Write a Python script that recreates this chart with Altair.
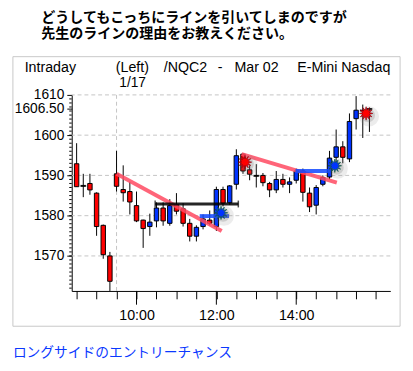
import math
import altair as alt
import pandas as pd

# ---------------- data ----------------
times = ["08:30", "08:40", "08:50", "09:00", "09:10", "09:20", "09:30", "09:40", "09:50",
         "10:00", "10:10", "10:20", "10:30", "10:40", "10:50", "11:00", "11:10", "11:20",
         "11:30", "11:40", "11:50", "12:00", "12:10", "12:20", "12:30", "12:40", "12:50",
         "13:00", "13:10", "13:20", "13:30", "13:40", "13:50", "14:00", "14:10", "14:20",
         "14:30", "14:40", "14:50", "15:00", "15:10", "15:20", "15:30", "15:40", "15:50"]
opens = [1592.9, 1587.4, 1588.0, 1585.6, 1577.6, 1570.0, 1590.4, 1586.5, 1586.0,
         1582.5, 1578.9, 1577.3, 1578.7, 1581.9, 1578.1, 1582.7, 1581.7, 1578.1,
         1574.9, 1577.3, 1578.9, 1577.3, 1586.5, 1583.2, 1587.8, 1595.3, 1591.4,
         1589.9, 1590.0, 1588.0, 1586.4, 1589.0, 1587.8, 1588.8, 1591.1, 1585.6,
         1582.6, 1587.8, 1589.6, 1594.5, 1597.1, 1594.1, 1604.1, 1606.1, 1606.5]
highs = [1598.0, 1590.4, 1590.4, 1585.8, 1577.8, 1571.0, 1596.1, 1592.5, 1588.4,
         1586.0, 1579.0, 1580.5, 1583.3, 1583.3, 1584.1, 1585.6, 1583.1, 1579.2,
         1577.6, 1580.3, 1581.3, 1587.2, 1587.2, 1587.6, 1596.5, 1595.5, 1592.5,
         1592.8, 1590.6, 1588.4, 1591.1, 1590.4, 1589.5, 1591.7, 1591.7, 1587.0,
         1587.6, 1590.0, 1596.1, 1601.4, 1598.5, 1605.4, 1609.7, 1607.6, 1606.8]
lows = [1587.2, 1584.6, 1585.2, 1575.0, 1569.3, 1561.3, 1586.0, 1583.5, 1580.3,
        1578.4, 1572.0, 1575.0, 1577.1, 1577.5, 1577.5, 1580.3, 1577.3, 1573.6,
        1573.6, 1576.6, 1577.6, 1576.2, 1582.3, 1582.7, 1586.5, 1590.4, 1588.8,
        1587.0, 1587.3, 1584.6, 1585.6, 1587.0, 1585.6, 1588.0, 1583.5, 1580.9,
        1580.3, 1587.3, 1589.0, 1593.0, 1593.0, 1593.3, 1601.4, 1599.3, 1600.8]
closes = [1587.2, 1587.4, 1586.4, 1577.3, 1570.3, 1563.7, 1587.3, 1585.7, 1583.4,
          1578.7, 1576.8, 1578.4, 1581.9, 1578.7, 1582.5, 1581.1, 1578.1, 1574.9,
          1577.1, 1579.2, 1578.1, 1586.5, 1583.1, 1587.4, 1594.9, 1591.1, 1590.3,
          1589.9, 1588.2, 1586.4, 1589.0, 1587.8, 1588.4, 1591.1, 1585.8, 1582.2,
          1587.0, 1589.5, 1594.3, 1597.1, 1594.5, 1603.4, 1606.2, 1606.1, 1606.5]

# annotation segments: (start time, start value, end time, end value)
seg_names = ["red1", "red2", "black", "blue1", "blue2"]
seg_t1 = ["09:30", "12:38", "10:28", "11:35", "13:59"]
seg_v1 = [1590.4, 1595.3, 1582.9, 1579.9, 1591.1]
seg_t2 = ["12:08", "15:01", "12:33", "12:19", "14:51"]
seg_v2 = [1576.2, 1588.2, 1582.9, 1579.9, 1591.1]
seg_colors = ["#ff4a62", "#ff4a62", "#000000", "#1048ff", "#1048ff"]
seg_widths = [4, 4, 3, 4, 4]

star_t = ["12:07", "14:58", "12:43", "15:45"]
star_v = [1580.7, 1592.4, 1593.3, 1605.4]
star_kind = ["buy", "buy", "sell", "sell"]

grid_values = [1570, 1580, 1590, 1600, 1610]
y_label_values = [1570, 1580, 1590, 1600, 1606.5, 1610]
session_open = ["09:30"]
x_tick_times = ["08:30", "09:00", "09:30", "10:00", "10:30", "11:00", "11:30", "12:00",
                "12:30", "13:00", "13:30", "14:00", "14:30", "15:00", "15:30", "16:00"]
x_label_times = ["10:00", "12:00", "14:00"]
minor_ticks = list(range(1562, 1610))


def mins(s):
    h, m = s.split(":")
    return int(h) * 60 + int(m)


df = pd.DataFrame({"t": [mins(s) for s in times], "o": opens, "h": highs,
                   "l": lows, "c": closes})
df["kind"] = ["up" if c > o else ("down" if c < o else "doji")
              for o, c in zip(opens, closes)]

seg_df = pd.DataFrame({"name": seg_names, "t1": [mins(s) for s in seg_t1], "v1": seg_v1,
                       "t2": [mins(s) for s in seg_t2], "v2": seg_v2,
                       "col": seg_colors, "w": seg_widths})
star_df = pd.DataFrame({"t": [mins(s) for s in star_t], "v": star_v, "kind": star_kind})

W, H = 325, 200
xs = alt.Scale(domain=[510, 974], nice=False, zero=False)
ys = alt.Scale(domain=[1561.3, 1610], nice=False, zero=False)
LAT = "Liberation Sans, Arial, sans-serif"
JP = "Noto Sans CJK JP"
label_list = "[" + ",".join(str(mins(s)) for s in x_label_times) + "]"

xaxis = alt.Axis(values=[mins(s) for s in x_tick_times], tickSize=8, tickColor="black",
                 domainColor="black", grid=False, title=None, labelFont=LAT,
                 labelFontSize=14.5, labelColor="black", labelPadding=10, labelFlush=False,
                 labelOverlap=False,
                 labelExpr="indexof(" + label_list + ", datum.value) >= 0 ? "
                           "floor(datum.value/60) + ':00' : ''")
yaxis = alt.Axis(values=y_label_values, tickSize=5, tickColor="black",
                 domainColor="black", grid=False, title=None, labelFont=LAT,
                 labelFontSize=14, labelColor="black", labelPadding=3, labelFlush=False,
                 labelOverlap=False,
                 labelExpr="datum.value == 1606.5 ? '1606.50' : format(datum.value, 'd')")


def X(f):
    return alt.X(f, type="quantitative", scale=xs, axis=xaxis)


def Y(f):
    return alt.Y(f, type="quantitative", scale=ys, axis=yaxis)


# frame box
frame = alt.Chart(pd.DataFrame({"a": [0]})).mark_rect(
    fillOpacity=0, stroke="#c8c8c8", strokeWidth=1).encode(
    x=alt.value(-60), x2=alt.value(335), y=alt.value(-39), y2=alt.value(236))

hgrid = alt.Chart(pd.DataFrame({"g": grid_values})).mark_rule(
    color="#c4c4c4", strokeDash=[4, 3], strokeWidth=1).encode(y=Y("g"))
vgrid = alt.Chart(pd.DataFrame({"t": [mins(s) for s in session_open]})).mark_rule(
    color="#c4c4c4", strokeDash=[4, 3], strokeWidth=1).encode(x=X("t"))

wicks = alt.Chart(df).mark_rule(color="black", strokeWidth=1).encode(
    x=X("t"), y=Y("l"), y2="h")
bodies = alt.Chart(df).mark_bar(size=4.5, stroke="black", strokeWidth=1).encode(
    x=X("t"), y=Y("o"), y2="c",
    color=alt.Color("kind:N", scale=alt.Scale(domain=["up", "down", "doji"],
                                              range=["#0033ff", "#ff0000", "#000000"]),
                    legend=None))
dojis = alt.Chart(df).transform_filter("datum.kind == 'doji'").mark_tick(
    color="black", thickness=2, size=6, orient="horizontal").encode(x=X("t"), y=Y("c"))

segs = alt.Chart(seg_df).mark_rule(opacity=0.85, strokeCap="butt").encode(
    x=X("t1"), y=Y("v1"), x2="t2", y2="v2",
    color=alt.Color("col:N", scale=None),
    size=alt.Size("w:Q", scale=None))
black_ends = alt.Chart(seg_df[seg_df["name"] == "black"]).transform_fold(
    ["t1", "t2"], as_=["end", "tt"]).mark_tick(
    color="black", thickness=1.5, size=7, orient="vertical").encode(
    x=alt.X("tt:Q", scale=xs, axis=xaxis), y=Y("v1"))

# stars with soft shadow
pts = []
for k in range(24):
    r = 1.0 if k % 2 == 0 else 0.5
    a = k * math.pi / 12
    pts.append(f"{r * math.cos(a):.3f},{r * math.sin(a):.3f}")
burst = "M" + " L".join(pts) + " Z"

glow1 = alt.Chart(star_df).mark_point(shape="circle", filled=True, color="#808080",
                                      opacity=0.15, size=420, xOffset=3, yOffset=3).encode(
    x=X("t"), y=Y("v"))
glow2 = alt.Chart(star_df).mark_point(shape="circle", filled=True, color="#606060",
                                      opacity=0.22, size=200, xOffset=2, yOffset=2).encode(
    x=X("t"), y=Y("v"))
stars = alt.Chart(star_df).mark_point(shape=burst, filled=True, size=190, opacity=1,
                                      strokeWidth=0.6).encode(
    x=X("t"), y=Y("v"),
    color=alt.Color("kind:N", scale=alt.Scale(domain=["buy", "sell"],
                                              range=["#2f9a4a", "#e8142a"]), legend=None),
    stroke=alt.Stroke("kind:N", scale=alt.Scale(domain=["buy", "sell"],
                                                range=["#0e5a22", "#8a0010"]), legend=None))

minor = alt.Chart(pd.DataFrame({"m": minor_ticks})).mark_rule(
    color="black", strokeWidth=1).encode(y=Y("m"), x=alt.value(-2.5), x2=alt.value(0))
long_ticks = alt.Chart(pd.DataFrame({"t": [mins(s) for s in x_label_times]})).mark_rule(
    color="black", strokeWidth=1).encode(x=X("t"), y=alt.value(H), y2=alt.value(H + 14))


def txt(s, x, y, size, font, color="black", weight="normal"):
    return alt.Chart(pd.DataFrame({"a": [0]})).mark_text(
        text=s, align="left", baseline="middle", font=font, fontSize=size,
        color=color, fontWeight=weight).encode(x=alt.value(x), y=alt.value(y))


texts = [
    txt("どうしてもこっちにラインを引いてしまのですが", -31, -78.5, 14.3, JP, weight="bold"),
    txt("先生のラインの理由をお教えください。", -31, -62.3, 14.3, JP, weight="bold"),
    txt("Intraday", -48, -27, 14.5, LAT),
    txt("(Left)", 45, -27, 14.5, LAT),
    txt("1/17", 48.5, -12.5, 14, LAT),
    txt("/NQC2", 94, -27, 14.5, LAT),
    txt("-", 149, -27, 14.5, LAT),
    txt("Mar 02", 166, -27, 14.5, LAT),
    txt("E-Mini Nasdaq", 230, -27, 14.5, LAT),
    txt("ロングサイドのエントリーチャンス", -60, 263.5, 14, JP, color="#0a38ff"),
]

chart = alt.layer(frame, hgrid, vgrid, wicks, bodies, dojis, segs, black_ends,
                  glow1, glow2, stars, minor, long_ticks, *texts).properties(
    width=W, height=H,
    padding={"left": 65, "top": 85, "right": 15, "bottom": 78},
    autosize=alt.AutoSizeParams(type="none"),
    background="white",
).configure_view(stroke=None)

chart.save("out.html", embed_options={"renderer": "svg", "actions": False})
